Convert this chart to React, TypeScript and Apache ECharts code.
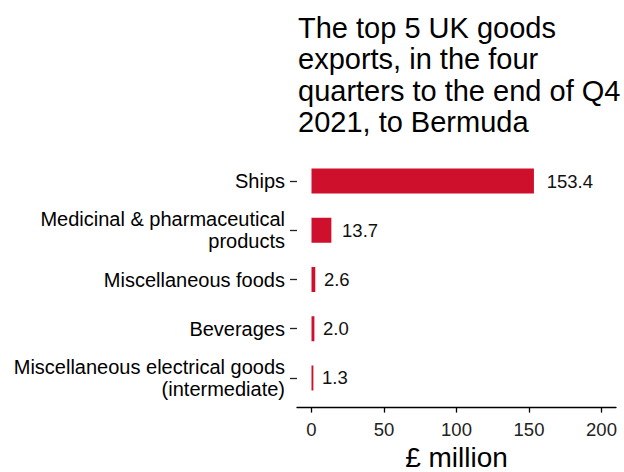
import React, { useEffect, useRef } from "react";
import * as echarts from "echarts";

const categories = [
  "Ships",
  "Medicinal & pharmaceutical\nproducts",
  "Miscellaneous foods",
  "Beverages",
  "Miscellaneous electrical goods\n(intermediate)",
];
const values = [153.4, 13.7, 2.6, 2.0, 1.3];
const xTicks = [0, 50, 100, 150, 200];
const titleText = "The top 5 UK goods\nexports, in the four\nquarters to the end of Q4\n2021, to Bermuda";
const axisTitle = "£ million";

const FONT = "'Liberation Sans', Arial, sans-serif";
const LABEL_SIZE = 18.5;

export default function App() {
  const ref = useRef<HTMLDivElement>(null);
  useEffect(() => {
    if (!ref.current) return;
    const chart = echarts.init(ref.current, undefined, { renderer: "svg" });
    const barData = values.map((v) => {
      const txt = v.toFixed(1);
      const approxWidth = LABEL_SIZE * (0.556 * (txt.length - 1) + 0.278);
      return { value: v, label: { distance: 3.5 + 0.2 * approxWidth } };
    });
    chart.setOption({
      animation: false,
      textStyle: { fontFamily: FONT },
      title: {
        text: titleText,
        left: 298,
        top: 12,
        padding: 0,
        textStyle: {
          fontFamily: FONT,
          fontSize: 29,
          lineHeight: 31.5,
          fontWeight: "normal",
          color: "#000",
        },
      },
      grid: {
        left: 297,
        right: 8,
        top: 156.4,
        bottom: 69.4,
        containLabel: false,
        outerBoundsMode: "none",
      },
      xAxis: {
        type: "value",
        min: -10,
        max: 210,
        offset: 5,
        splitLine: { show: false },
        axisLine: { show: true, lineStyle: { color: "#000", width: 1.3 } },
        axisTick: { show: true, length: 5, customValues: xTicks, lineStyle: { color: "#000", width: 1.3 } },
        axisLabel: {
          customValues: xTicks,
          fontSize: LABEL_SIZE,
          color: "#222",
          margin: 12,
          fontFamily: FONT,
        },
        name: axisTitle,
        nameLocation: "middle",
        nameGap: 33,
        nameTextStyle: { fontSize: 28, lineHeight: 28, color: "#000", fontFamily: FONT },
      },
      yAxis: {
        type: "category",
        inverse: true,
        data: categories,
        axisLine: { show: false, onZero: false },
        axisTick: { show: true, length: 7, alignWithLabel: true, lineStyle: { color: "#222", width: 1.3 } },
        axisLabel: {
          fontSize: 20,
          lineHeight: 22,
          color: "#000",
          margin: 12,
          fontFamily: FONT,
          align: "right",
        },
      },
      series: [
        {
          type: "bar",
          data: barData,
          barWidth: 25,
          itemStyle: { color: "#CF102D" },
          label: {
            show: true,
            position: "right",
            fontSize: LABEL_SIZE,
            color: "#111",
            fontFamily: FONT,
            formatter: (p: any) => Number(p.value).toFixed(1),
          },
        },
      ],
    });
    return () => chart.dispose();
  }, []);
  return (
    <div
      ref={ref}
      style={{ position: "fixed", left: 0, top: 0, width: 624, height: 472, background: "#fff" }}
    />
  );
}
